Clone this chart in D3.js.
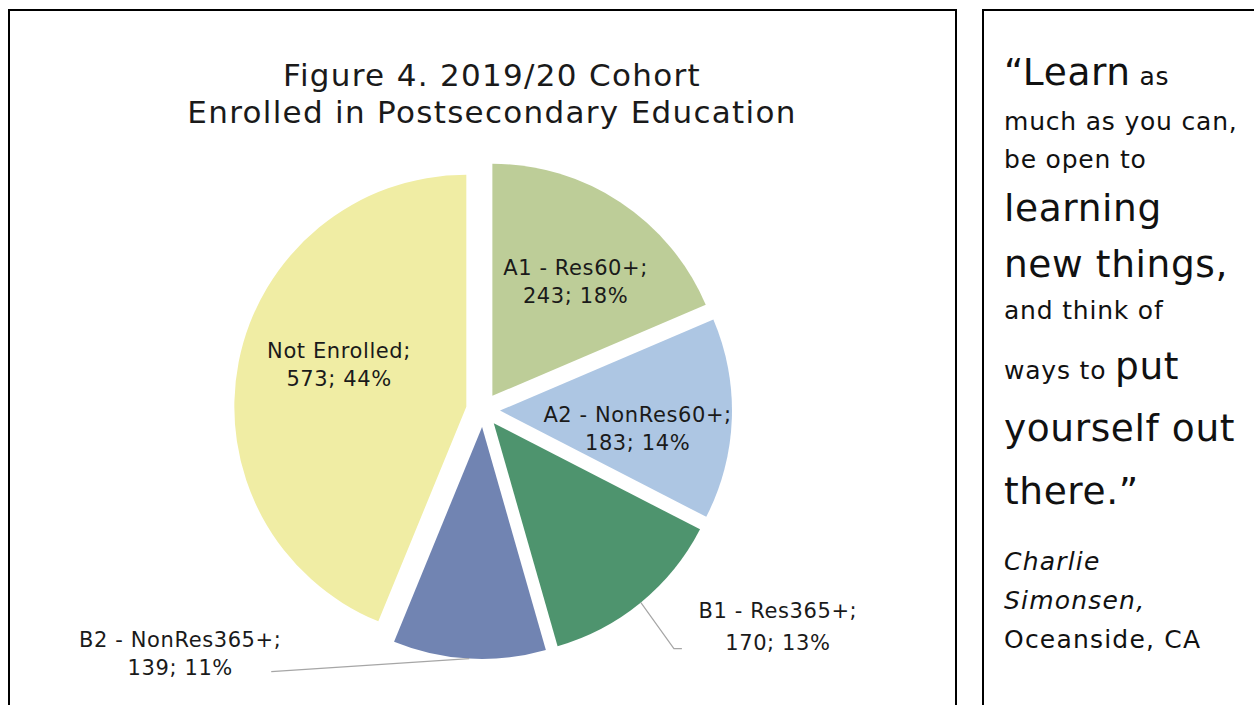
<!DOCTYPE html>
<html><head><meta charset="utf-8">
<script src="https://cdn.jsdelivr.net/npm/d3@7"></script>
<style>html,body{margin:0;padding:0;background:#fff;} svg{display:block;}</style>
</head><body>
<svg id="chart" width="1254" height="705"></svg>
<script>
// ---- data ----
const categories = ["A1 - Res60+", "A2 - NonRes60+", "B1 - Res365+", "B2 - NonRes365+", "Not Enrolled"];
const counts = [243, 183, 170, 139, 573];
const percentLabels = ["18%", "14%", "13%", "11%", "44%"];
const titleLines = ["Figure 4. 2019/20 Cohort", "Enrolled in Postsecondary Education"];
const quoteLines = [
  [["\u201CLearn", "L"], [" as", "s"]],
  [["much as you can,", "s"]],
  [["be open to", "s"]],
  [["learning", "L"]],
  [["new things,", "L"]],
  [["and think of", "s"]],
  [["ways to ", "s"], ["put", "L"]],
  [["yourself out", "L"]],
  [["there.\u201D", "L"]]
];
const attribution = [["Charlie", true], ["Simonsen,", true], ["Oceanside, CA", false]];

// ---- setup ----
const svg = d3.select("#chart");
const font = "'DejaVu Sans', sans-serif";
const ink = "#1a1a1a";

svg.append("rect").attr("x", 9).attr("y", 10).attr("width", 947).attr("height", 740)
  .attr("fill", "none").attr("stroke", "#000").attr("stroke-width", 2);
svg.append("rect").attr("x", 983).attr("y", 10).attr("width", 320).attr("height", 740)
  .attr("fill", "none").attr("stroke", "#000").attr("stroke-width", 2);

// title
svg.append("g").selectAll("text").data(titleLines).join("text")
  .attr("x", 492).attr("y", (d, i) => 86 + i * 37)
  .attr("text-anchor", "middle").attr("font-family", font).attr("font-size", 31)
  .attr("letter-spacing", 1.3)
  .attr("fill", ink).text(d => d);

// pie
const color = d3.scaleOrdinal(categories, ["#bdcd98", "#adc6e3", "#4e946e", "#7184b2", "#f0eda4"]);
const data = categories.map((c, i) => ({ cat: c, count: counts[i], pct: percentLabels[i] }));
const arcs = d3.pie().sort(null).value(d => d.count)(data);
const R = 232, explode = 17, cx = 483, cy = 410;
const arc = d3.arc().innerRadius(0).outerRadius(R);
const mid = a => (a.startAngle + a.endAngle) / 2;
const apex = a => [cx + Math.sin(mid(a)) * explode, cy - Math.cos(mid(a)) * explode];
const along = (a, r) => { const p = apex(a); return [p[0] + Math.sin(mid(a)) * r, p[1] - Math.cos(mid(a)) * r]; };

svg.append("g").selectAll("path").data(arcs).join("path")
  .attr("d", arc)
  .attr("transform", d => `translate(${apex(d)})`)
  .attr("fill", d => color(d.data.cat));

// labels
const inside = { "A1 - Res60+": [6.5, 2.4], "A2 - NonRes60+": [-1.5, 13.3], "Not Enrolled": [9.3, -15] };
const lg = svg.append("g").attr("font-family", font).attr("font-size", 21).attr("letter-spacing", 0.6)
  .attr("fill", ink).attr("text-anchor", "middle");
arcs.forEach(a => {
  const name = a.data.cat;
  const l1 = name + ";", l2 = a.data.count + "; " + a.data.pct;
  if (inside[name]) {
    const c = along(a, 0.6 * R);
    const x = c[0] + inside[name][0], y = c[1] + inside[name][1];
    lg.append("text").attr("x", x).attr("y", y - 7).text(l1);
    lg.append("text").attr("x", x).attr("y", y + 21).text(l2);
  } else {
    const p = along(a, R);
    let pts, tx, b1, b2;
    if (name.startsWith("B1")) {
      pts = [p, [p[0] + 33, p[1] + 46], [p[0] + 41, p[1] + 46]];
      tx = p[0] + 137; b1 = p[1] + 15.5; b2 = p[1] + 47;
    } else {
      pts = [p, [p[0] - 198, p[1] + 13]];
      tx = p[0] - 289; b1 = p[1] - 12; b2 = p[1] + 16.5;
    }
    svg.append("path").attr("d", d3.line()(pts)).attr("fill", "none")
      .attr("stroke", "#a6a6a6").attr("stroke-width", 1.2);
    lg.append("text").attr("x", tx).attr("y", b1).text(l1);
    lg.append("text").attr("x", tx).attr("y", b2).text(l2);
  }
});

// quote panel
const qBase = [85, 130, 168, 221, 277, 319, 379, 441, 504];
const sizes = { L: 37.5, s: 25 };
const spacing = { L: 0.6, s: 0.8 };
const qg = svg.append("g").attr("font-family", font).attr("fill", "#111");
quoteLines.forEach((line, i) => {
  const t = qg.append("text").attr("x", 1004).attr("y", qBase[i]);
  line.forEach(seg => t.append("tspan").attr("font-size", sizes[seg[1]])
    .attr("letter-spacing", spacing[seg[1]]).text(seg[0]));
});
const aBase = [570, 609, 648];
attribution.forEach((d, i) => {
  qg.append("text").attr("x", 1004).attr("y", aBase[i]).attr("font-size", 25).attr("letter-spacing", 1.2)
    .attr("font-style", d[1] ? "italic" : "normal").text(d[0]);
});
</script>
</body></html>
